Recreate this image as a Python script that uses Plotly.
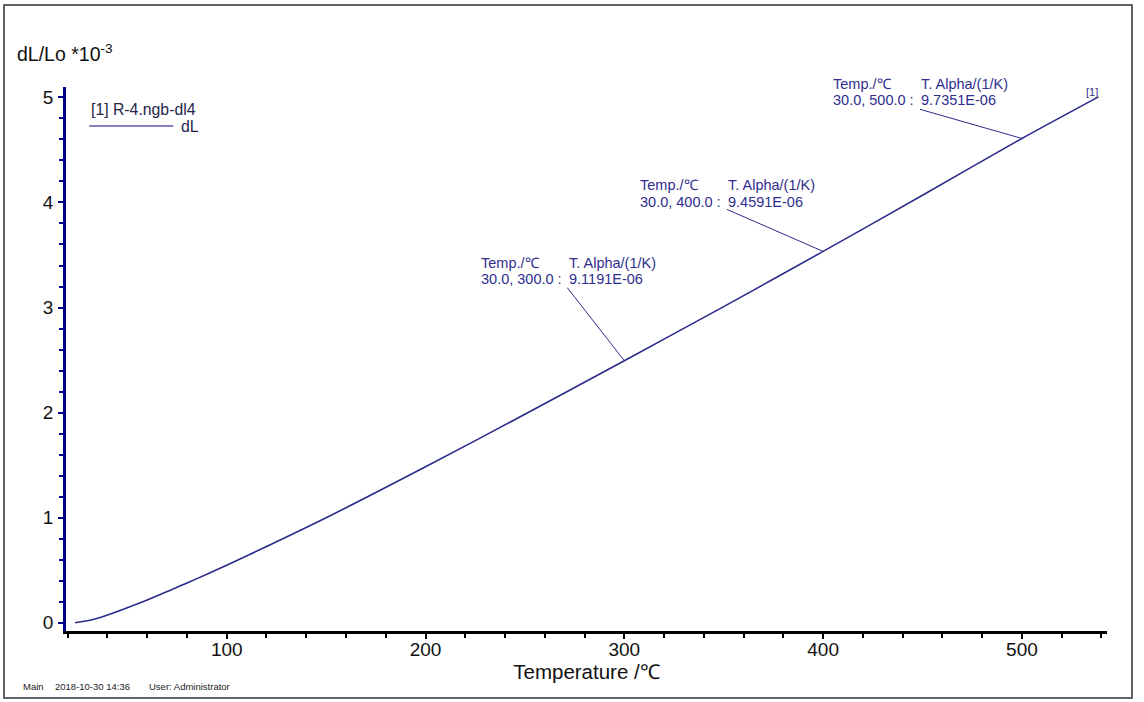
import plotly.graph_objects as go

# ---- data ----
temperature = [23.7, 30, 35, 40, 50, 60, 70, 80, 90, 100, 120, 150, 200, 250, 300, 350, 400, 450, 500, 538.5]
dl_lo = [0.0, 0.018, 0.042, 0.073, 0.143, 0.217, 0.297, 0.377, 0.462, 0.547, 0.725, 0.999, 1.484, 1.984,
         2.494, 3.009, 3.534, 4.069, 4.609, 5.005]

marker_temps = [300, 400, 500]
marker_alpha = ["9.1191E-06", "9.4591E-06", "9.7351E-06"]
marker_start = [30.0, 30.0, 30.0]

x_ticks = [100, 200, 300, 400, 500]
y_ticks = [0, 1, 2, 3, 4, 5]

# ---- layout geometry (pixels) ----
W, H = 1144, 702
L, R, T, B = 66, 1107, 87, 631
XR = [19.15, 542.8]
YR = [-0.079, 5.099]


def px2x(px):
    return XR[0] + (px - L) / (R - L) * (XR[1] - XR[0])


def py2y(py):
    return YR[0] + (B - py) / (B - T) * (YR[1] - YR[0])


def ppx(px):
    return (px - L) / (R - L)


def ppy(py):
    return (B - py) / (B - T)


FONT = "Liberation Sans, Arial, sans-serif"
CURVE = "#2b2b8c"
TXT = "#2e2e8e"

fig = go.Figure()
fig.add_trace(go.Scatter(x=temperature, y=dl_lo, mode="lines",
                         line=dict(color=CURVE, width=1.6, shape="spline", smoothing=0.8),
                         showlegend=False, hoverinfo="x+y"))

annotations = []
shapes = []

# marker label blocks (text positions in pixels -> paper)
block_px = [(479, 567.3, 263.3, 279.3, 567.3, 287.7),
            (637.7, 726.0, 185.0, 201.5, 726.7, 209.3),
            (831.0, 919.3, 83.5, 100.5, 920.0, 109.3)]
for (c1, c2, l1, l2, sx, sy), t, a, s in zip(block_px, marker_temps, marker_alpha, marker_start):
    for cx, cy, txt in [(c1, l1, "Temp./℃"), (c2, l1, "T. Alpha/(1/K)"),
                        (c1, l2, f"{s:.1f}, {t:.1f} :"), (c2, l2, a)]:
        annotations.append(dict(x=ppx(cx), y=ppy(cy), xref="paper", yref="paper", text=txt,
                                xanchor="left", yanchor="middle", showarrow=False,
                                font=dict(family=FONT, size=14.5, color=TXT)))
    yv = dl_lo[temperature.index(t)]
    shapes.append(dict(type="line", xref="x", yref="y", x0=px2x(sx), y0=py2y(sy), x1=t, y1=yv,
                       line=dict(color=CURVE, width=1)))

# curve end label
annotations.append(dict(x=ppx(1092), y=ppy(91.5), xref="paper", yref="paper", text="[1]", showarrow=False,
                        xanchor="center", yanchor="middle", font=dict(family=FONT, size=11, color=TXT)))

# y axis title
annotations.append(dict(x=ppx(15), y=ppy(53), xref="paper", yref="paper",
                        text="dL/Lo *10<sup>-3</sup>", showarrow=False, xanchor="left", yanchor="middle",
                        font=dict(family=FONT, size=19.5, color="#111111")))

# legend
annotations.append(dict(x=ppx(89), y=ppy(110), xref="paper", yref="paper", text="[1] R-4.ngb-dl4",
                        showarrow=False, xanchor="left", yanchor="middle",
                        font=dict(family=FONT, size=15.8, color="#25254a")))
annotations.append(dict(x=ppx(179), y=ppy(127), xref="paper", yref="paper", text="dL",
                        showarrow=False, xanchor="left", yanchor="middle",
                        font=dict(family=FONT, size=15.8, color="#25254a")))
shapes.append(dict(type="line", xref="paper", yref="paper", x0=ppx(89.3), x1=ppx(173.3),
                   y0=ppy(126), y1=ppy(126), line=dict(color="#5a5aa8", width=1.5)))

# footer
for px, txt in [(20.7, "Main"), (53.3, "2018-10-30 14:36"), (146.7, "User: Administrator")]:
    annotations.append(dict(x=ppx(px), y=ppy(686.7), xref="paper", yref="paper", text=txt,
                            showarrow=False, xanchor="left", yanchor="middle",
                            font=dict(family=FONT, size=9.5, color="#222222")))

# page frame
shapes.append(dict(type="rect", xref="paper", yref="paper", x0=ppx(4), x1=ppx(1132),
                   y0=ppy(698), y1=ppy(5), line=dict(color="#333333", width=1.5), layer="below"))

fig.update_layout(
    width=W, height=H,
    margin=dict(l=L, r=W - R, t=T, b=H - B, autoexpand=False),
    paper_bgcolor="white", plot_bgcolor="white",
    showlegend=False,
    annotations=annotations, shapes=shapes,
    font=dict(family=FONT, color="#111111"),
    xaxis=dict(range=XR, showgrid=False, zeroline=False, showline=True, linecolor="#000000",
               linewidth=2.5, ticks="outside", ticklen=5, tickwidth=2, tickcolor="#000000",
               tickvals=x_ticks, ticklabelstandoff=-6,
               tickfont=dict(family=FONT, size=19, color="#111111"),
               minor=dict(dtick=20, tick0=0, ticks="outside", ticklen=4, tickwidth=1.5,
                          tickcolor="#000000", showgrid=False),
               title=dict(text="Temperature /℃", standoff=2,
                          font=dict(family=FONT, size=20.5, color="#111111"))),
    yaxis=dict(range=YR, showgrid=False, zeroline=False, showline=True, linecolor="#00008b",
               linewidth=2.5, ticks="outside", ticklen=5, tickwidth=2, tickcolor="#00008b",
               tickvals=y_ticks, ticklabelstandoff=1,
               tickfont=dict(family=FONT, size=19, color="#111111"),
               minor=dict(dtick=0.2, tick0=0, ticks="outside", ticklen=4, tickwidth=1.5,
                          tickcolor="#00008b", showgrid=False)),
)

fig.write_html("out.html", config={"displayModeBar": False},
               post_script="document.body.style.margin='0px';document.body.style.overflow='hidden';")
